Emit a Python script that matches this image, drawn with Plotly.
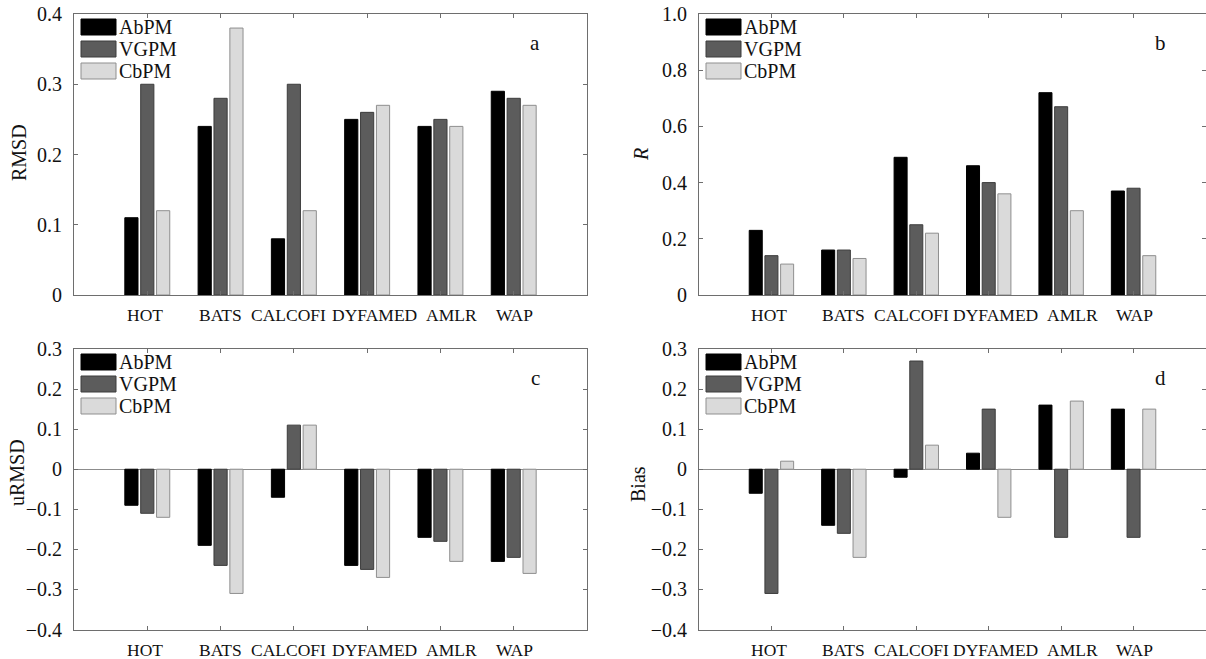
import plotly.graph_objects as go

# ---------------- data ----------------
stations = ["HOT", "BATS", "CALCOFI", "DYFAMED", "AMLR", "WAP"]
models = ["AbPM", "VGPM", "CbPM"]

rmsd_abpm = [0.11, 0.24, 0.08, 0.25, 0.24, 0.29]
rmsd_vgpm = [0.30, 0.28, 0.30, 0.26, 0.25, 0.28]
rmsd_cbpm = [0.12, 0.38, 0.12, 0.27, 0.24, 0.27]

r_abpm = [0.23, 0.16, 0.49, 0.46, 0.72, 0.37]
r_vgpm = [0.14, 0.16, 0.25, 0.40, 0.67, 0.38]
r_cbpm = [0.11, 0.13, 0.22, 0.36, 0.30, 0.14]

urmsd_abpm = [-0.09, -0.19, -0.07, -0.24, -0.17, -0.23]
urmsd_vgpm = [-0.11, -0.24, 0.11, -0.25, -0.18, -0.22]
urmsd_cbpm = [-0.12, -0.31, 0.11, -0.27, -0.23, -0.26]

bias_abpm = [-0.06, -0.14, -0.02, 0.04, 0.16, 0.15]
bias_vgpm = [-0.31, -0.16, 0.27, 0.15, -0.17, -0.17]
bias_cbpm = [0.02, -0.22, 0.06, -0.12, 0.17, 0.15]

rmsd_ticks = [0, 0.1, 0.2, 0.3, 0.4]
rmsd_ticktext = ["0", "0.1", "0.2", "0.3", "0.4"]
r_ticks = [0, 0.2, 0.4, 0.6, 0.8, 1.0]
r_ticktext = ["0", "0.2", "0.4", "0.6", "0.8", "1.0"]
neg_ticks = [-0.4, -0.3, -0.2, -0.1, 0, 0.1, 0.2, 0.3]
neg_ticktext = ["\u22120.4", "\u22120.3", "\u22120.2", "\u22120.1", "0", "0.1", "0.2", "0.3"]

# ---------------- style ----------------
FONT = "Liberation Serif, Times New Roman, serif"
TXT = "#111111"
FILL = {"AbPM": "#000000", "VGPM": "#5c5c5c", "CbPM": "#dadada"}
EDGE = {"AbPM": "#000000", "VGPM": "#3c3c3c", "CbPM": "#8f8f8f"}
AXIS_COLOR = "#6e6e6e"
W, H = 1206, 659
# horizontal nudges of station labels (the source set them as one spaced string)
LABEL_SHIFT = {"HOT": -2, "BATS": 0, "CALCOFI": -5, "DYFAMED": 7, "AMLR": 11, "WAP": 1}


def fx(px):
    return px / W


def fy(py):
    return 1 - py / H


# panel boxes in page pixels: (left, right, top, bottom)
BOX_A = (74, 587, 14, 295)
BOX_B = (699, 1206, 14, 295)
BOX_C = (74, 587, 349, 629.5)
BOX_D = (699, 1206, 349, 629.5)

panels = [
    # (axis suffix, box, series, range, ticks, ticktext, title, title pos, letter)
    ("", BOX_A, (rmsd_abpm, rmsd_vgpm, rmsd_cbpm), [0, 0.4], rmsd_ticks, rmsd_ticktext,
     "RMSD", (19, 153), "a"),
    ("2", BOX_B, (r_abpm, r_vgpm, r_cbpm), [0, 1.0], r_ticks, r_ticktext,
     "<i>R</i>", (641, 155), "b"),
    ("3", BOX_C, (urmsd_abpm, urmsd_vgpm, urmsd_cbpm), [-0.4, 0.3], neg_ticks, neg_ticktext,
     "uRMSD", (17, 473), "c"),
    ("4", BOX_D, (bias_abpm, bias_vgpm, bias_cbpm), [-0.4, 0.3], neg_ticks, neg_ticktext,
     "Bias", (638, 484), "d"),
]

fig = go.Figure()
layout = dict(
    width=W, height=H, autosize=False,
    margin=dict(l=0, r=0, t=0, b=0, autoexpand=False),
    paper_bgcolor="white", plot_bgcolor="white",
    barmode="group", bargap=0.35, bargroupgap=0.17,
    font=dict(family=FONT, size=18, color=TXT),
    showlegend=False,
)
annotations = []
shapes = []

for suffix, box, series, yrange, tv, tt, title, tpos, letter in panels:
    left, right, top, bottom = box
    xa, ya = "x" + suffix, "y" + suffix
    for name, vals in zip(models, series):
        fig.add_trace(go.Bar(
            x=stations, y=vals, name=name, xaxis=xa, yaxis=ya,
            marker=dict(color=FILL[name], line=dict(color=EDGE[name], width=1)),
        ))
    has_zero = yrange[0] < 0
    layout["xaxis" + suffix] = dict(
        domain=[fx(left), min(1.0, fx(right))], anchor=ya, type="category",
        range=[-1, 6], automargin=False,
        showline=True, linecolor=AXIS_COLOR, linewidth=1, mirror="ticks",
        ticks="inside", ticklen=4, tickcolor=AXIS_COLOR,
        showticklabels=False, showgrid=False, zeroline=False, fixedrange=True,
    )
    layout["yaxis" + suffix] = dict(
        domain=[fy(bottom), fy(top)], anchor=xa, range=yrange,
        tickvals=tv, ticktext=tt, automargin=False, ticklabeloverflow="allow",
        showline=True, linecolor=AXIS_COLOR, linewidth=1, mirror="ticks",
        ticks="inside", ticklen=4, tickcolor=AXIS_COLOR,
        ticklabelstandoff=7, tickfont=dict(size=20),
        showgrid=False, zeroline=has_zero, zerolinecolor="#8c8c8c", zerolinewidth=1,
        fixedrange=True,
    )
    # y-axis title
    annotations.append(dict(
        text=title, xref="paper", yref="paper", x=fx(tpos[0]), y=fy(tpos[1]),
        xanchor="center", yanchor="middle", textangle=-90, showarrow=False,
        font=dict(family=FONT, size=20, color=TXT),
    ))
    # legend keys (boxes + names) in the upper-left corner of each panel
    for k, name in enumerate(models):
        shapes.append(dict(
            type="rect", xref="paper", yref="paper",
            x0=fx(left + 7), x1=fx(left + 42),
            y0=fy(top + 21 + 22 * k), y1=fy(top + 5 + 22 * k),
            fillcolor=FILL[name], line=dict(color=EDGE[name], width=1),
        ))
        annotations.append(dict(
            text=name, xref="paper", yref="paper",
            x=fx(left + 43), y=fy(top + 13 + 22 * k),
            xanchor="left", yanchor="middle", showarrow=False,
            font=dict(family=FONT, size=20, color=TXT),
        ))
    # panel letter
    annotations.append(dict(
        text=letter, xref="paper", yref="paper",
        x=fx(left + 461), y=fy(top + 29), xanchor="center", yanchor="middle",
        showarrow=False, font=dict(family=FONT, size=21, color=TXT),
    ))
    # station labels under the axis
    for s in stations:
        annotations.append(dict(
            text=s, xref=xa, yref=ya + " domain", x=s, y=0,
            xanchor="center", yanchor="top", xshift=LABEL_SHIFT[s], yshift=-8,
            showarrow=False, font=dict(family=FONT, size=17.5, color=TXT),
        ))

layout["annotations"] = annotations
layout["shapes"] = shapes
fig.update_layout(**layout)
# place the figure flush with the page corner (no default 8px body margin)
fig.write_html(
    "out.html",
    config={"displayModeBar": False},
    post_script="document.body.style.margin='0';",
)
